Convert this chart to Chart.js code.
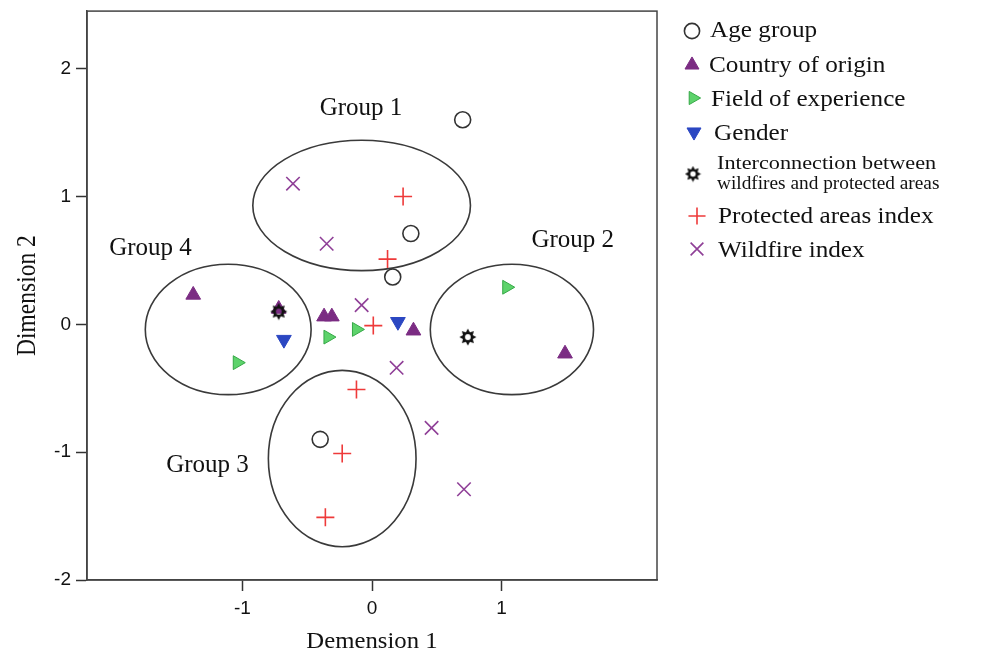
<!DOCTYPE html>
<html>
<head>
<meta charset="utf-8">
<script src="https://cdn.jsdelivr.net/npm/chart.js@4.4.0/dist/chart.umd.min.js"></script>
<style>
  html, body { margin: 0; padding: 0; background: #fff; }
  #wrap { width: 988px; height: 657px; }
</style>
</head>
<body>
<div id="wrap"><canvas id="mapChart"></canvas></div>
<script>
// Category labels and object points
const categories = [
    'Age group',
    'Country of origin',
    'Field of experience',
    'Gender',
    'Interconnection between wildfires and protected areas',
    'Protected areas index',
    'Wildfire index'
];

const ageX = [0.70, 0.30, 0.16, -0.40];
const ageY = [1.60, 0.71, 0.37, -0.90];
const countryX = [-1.38, -0.72, -0.37, -0.31, 0.32, 1.49];
const countryY = [0.23, 0.12, 0.06, 0.06, -0.05, -0.23];
const fieldX = [-1.04, -0.34, -0.12, 1.04];
const fieldY = [-0.30, -0.10, -0.04, 0.29];
const genderX = [-0.68, 0.20];
const genderY = [-0.12, 0.02];
const interX = [-0.72, 0.74];
const interY = [0.10, -0.10];
const protectedX = [0.24, 0.12, 0.01, -0.12, -0.23, -0.36];
const protectedY = [1.00, 0.51, -0.01, -0.51, -1.01, -1.51];
const wildfireX = [-0.61, -0.35, -0.08, 0.19, 0.46, 0.71];
const wildfireY = [1.10, 0.63, 0.15, -0.34, -0.81, -1.29];

// ellipses drawn around the groups (data units)
const groupNames = ['Group 1', 'Group 2', 'Group 3', 'Group 4'];
const groupCx = [-0.08, 1.08, -0.23, -1.11];
const groupCy = [0.93, -0.04, -1.05, -0.04];
const groupRx = [0.84, 0.63, 0.57, 0.64];
const groupRy = [0.51, 0.51, 0.69, 0.51];
const groupLabelX = [-0.085, 1.55, -1.27, -1.71];
const groupLabelY = [1.69, 0.66, -1.105, 0.59];

const xTicks = [-1, 0, 1];
const yTicks = [-2, -1, 0, 1, 2];

function pts(xs, ys) {
    return xs.map((x, i) => ({ x: x, y: ys[i] }));
}

function makeStar(size) {
    const c = document.createElement('canvas');
    c.width = size; c.height = size;
    const g = c.getContext('2d');
    const m = size / 2, rOut = size / 2 - 0.5, rIn = rOut * 0.62;
    g.beginPath();
    for (let i = 0; i < 16; i++) {
        const a = i * Math.PI / 8 - Math.PI / 2;
        const r = i % 2 ? rIn : rOut;
        g.lineTo(m + r * Math.cos(a), m + r * Math.sin(a));
    }
    g.closePath();
    g.fillStyle = '#111';
    g.fill();
    g.globalCompositeOperation = 'destination-out';
    g.beginPath();
    g.arc(m, m, rOut * 0.34, 0, Math.PI * 2);
    g.fill();
    return c;
}
const starImg = makeStar(18);
const starSmall = makeStar(17);

function stretchText(ctx, text, x, y, font, sx, align) {
    ctx.save();
    ctx.translate(x, y);
    ctx.scale(sx, 1);
    ctx.font = font;
    ctx.textAlign = align || 'left';
    ctx.textBaseline = 'alphabetic';
    ctx.fillStyle = '#111';
    ctx.fillText(text, 0, 0);
    ctx.restore();
}

const serif = '"Liberation Serif", "Times New Roman", serif';

const decorPlugin = {
    id: 'decor',
    beforeDatasetsDraw(chart) {
        const ctx = chart.ctx;
        const xs = chart.scales.x, ys = chart.scales.y;
        ctx.save();
        ctx.strokeStyle = '#3a3a3a';
        ctx.lineWidth = 1.6;
        groupNames.forEach((name, i) => {
            const cx = xs.getPixelForValue(groupCx[i]);
            const cy = ys.getPixelForValue(groupCy[i]);
            const rx = Math.abs(xs.getPixelForValue(groupCx[i] + groupRx[i]) - cx);
            const ry = Math.abs(ys.getPixelForValue(groupCy[i] + groupRy[i]) - cy);
            ctx.beginPath();
            ctx.ellipse(cx, cy, rx, ry, 0, 0, Math.PI * 2);
            ctx.stroke();
            ctx.font = '25px ' + serif;
            ctx.textAlign = 'center';
            ctx.textBaseline = 'middle';
            ctx.fillStyle = '#111';
            ctx.fillText(name, xs.getPixelForValue(groupLabelX[i]), ys.getPixelForValue(groupLabelY[i]));
        });
        ctx.restore();
    },
    afterDraw(chart) {
        const ctx = chart.ctx;
        const ca = chart.chartArea;
        ctx.save();
        ctx.strokeStyle = '#444';
        ctx.lineWidth = 1.5;
        ctx.strokeRect(ca.left, ca.top, ca.right - ca.left, ca.bottom - ca.top);

        // axis titles
        stretchText(ctx, 'Demension 1', (ca.left + ca.right) / 2, 648, '22.5px ' + serif, 1.1, 'center');
        ctx.save();
        ctx.translate(35, (ca.top + ca.bottom) / 2);
        ctx.rotate(-Math.PI / 2);
        ctx.scale(1, 1.15);
        ctx.font = '23.5px ' + serif;
        ctx.textAlign = 'center';
        ctx.fillStyle = '#111';
        ctx.fillText('Dimension 2', 0, 0);
        ctx.restore();

        // legend
        const rows = [
            { ds: 0, mx: 692, my: 31, tx: 710, ty: 37 },
            { ds: 1, mx: 692, my: 65, tx: 709, ty: 72 },
            { ds: 2, mx: 693, my: 98, tx: 711, ty: 106 },
            { ds: 3, mx: 694, my: 132, tx: 714, ty: 140 },
            { ds: 4, mx: 693, my: 174, tx: 717, ty: 169 },
            { ds: 5, mx: 697, my: 216, tx: 718, ty: 223 },
            { ds: 6, mx: 697, my: 249, tx: 718, ty: 257 }
        ];
        rows.forEach(r => {
            const d = chart.data.datasets[r.ds];
            ctx.save();
            ctx.fillStyle = d.pointBackgroundColor || 'rgba(0,0,0,0)';
            ctx.strokeStyle = d.pointBorderColor || '#111';
            ctx.lineWidth = d.pointBorderWidth || 1;
            const style = r.ds === 4 ? starSmall : d.pointStyle;
            Chart.helpers.drawPoint(ctx, {
                pointStyle: style,
                radius: (d.pointRadius || 8) * 0.95,
                rotation: d.pointRotation || 0,
                borderWidth: d.pointBorderWidth || 1
            }, r.mx, r.my);
            ctx.restore();
            if (r.ds === 4) {
                stretchText(ctx, 'Interconnection between', r.tx, r.ty, '19.5px ' + serif, 1.14);
                stretchText(ctx, 'wildfires and protected areas', r.tx, r.ty + 20, '19.5px ' + serif, 0.99);
            } else {
                stretchText(ctx, d.label, r.tx, r.ty, '22.5px ' + serif, 1.12);
            }
        });
        ctx.restore();
    }
};

const ctxMap = document.getElementById('mapChart').getContext('2d');
new Chart(ctxMap, {
    type: 'scatter',
    data: {
        datasets: [
            {
                label: categories[0], data: pts(ageX, ageY),
                pointStyle: 'circle', pointRadius: 8,
                pointBackgroundColor: 'rgba(0,0,0,0)', pointBorderColor: '#333', pointBorderWidth: 1.6
            },
            {
                label: categories[1], data: pts(countryX, countryY),
                pointStyle: 'triangle', pointRadius: 8.5,
                pointBackgroundColor: '#7b2c83', pointBorderColor: '#7b2c83', pointBorderWidth: 1
            },
            {
                label: categories[2], data: pts(fieldX, fieldY),
                pointStyle: 'triangle', pointRadius: 8, pointRotation: 90,
                pointBackgroundColor: '#5dd36b', pointBorderColor: '#36a847', pointBorderWidth: 1
            },
            {
                label: categories[3], data: pts(genderX, genderY),
                pointStyle: 'triangle', pointRadius: 8.5, pointRotation: 180,
                pointBackgroundColor: '#2b47c2', pointBorderColor: '#2b47c2', pointBorderWidth: 1
            },
            {
                label: categories[4], data: pts(interX, interY),
                pointStyle: starImg, pointRadius: 9, order: -1
            },
            {
                label: categories[5], data: pts(protectedX, protectedY),
                pointStyle: 'cross', pointRadius: 9,
                pointBorderColor: '#ee3a3a', pointBorderWidth: 1.6
            },
            {
                label: categories[6], data: pts(wildfireX, wildfireY),
                pointStyle: 'crossRot', pointRadius: 9.5,
                pointBorderColor: '#8f3f97', pointBorderWidth: 1.6
            }
        ]
    },
    options: {
        responsive: true,
        maintainAspectRatio: false,
        animation: false,
        layout: { padding: { left: 0, right: 331, top: 8, bottom: 0 } },
        plugins: { legend: { display: false }, tooltip: { enabled: false } },
        scales: {
            x: {
                type: 'linear', min: -2.2, max: 2.2,
                afterBuildTicks: s => { s.ticks = xTicks.map(v => ({ value: v })); },
                afterFit: s => { s.height = 77; s.paddingLeft = 0; s.paddingRight = 0; },
                grid: { drawOnChartArea: false, tickLength: 11, tickColor: '#333', tickWidth: 1.5 },
                border: { color: '#444', width: 1.5 },
                ticks: { color: '#111', padding: 6, font: { family: '"Liberation Sans", Arial, sans-serif', size: 19 } }
            },
            y: {
                type: 'linear', min: -2, max: 2.45,
                afterBuildTicks: s => { s.ticks = yTicks.map(v => ({ value: v })); },
                afterFit: s => { s.width = 87; s.paddingTop = 0; s.paddingBottom = 0; },
                grid: { drawOnChartArea: false, tickLength: 11, tickColor: '#333', tickWidth: 1.5 },
                border: { color: '#444', width: 1.5 },
                ticks: { color: '#111', padding: 5, font: { family: '"Liberation Sans", Arial, sans-serif', size: 19 } }
            }
        }
    },
    plugins: [decorPlugin]
});
</script>
</body>
</html>
